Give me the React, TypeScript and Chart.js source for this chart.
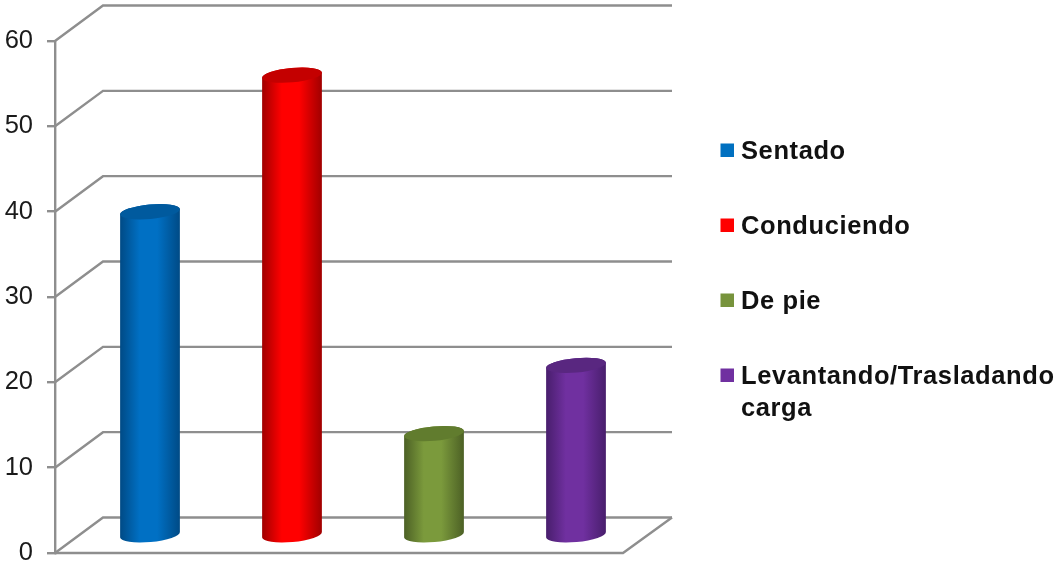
import React, { useEffect, useRef } from "react";
import { Chart, registerables } from "chart.js";

Chart.register(...registerables);

const categories = ["Sentado", "Conduciendo", "De pie", "Levantando/Trasladando carga"];
const legendLines = [["Sentado"], ["Conduciendo"], ["De pie"], ["Levantando/Trasladando", "carga"]];
const values = [38, 54, 12, 20];
const baseColors = ["#0070c4", "#ff0000", "#7b9a3c", "#7030a0"];
const edgeColors = ["#004a85", "#a00000", "#4c6025", "#481e6c"];
const capColors = ["#005a9e", "#c40000", "#617c2e", "#592780"];
const legendColors = ["#0070c0", "#ff0000", "#77933c", "#7030a0"];
const yTicks = [0, 10, 20, 30, 40, 50, 60];

const GRID = "#8e8e8e";
const DEPTH_X = 48;
const DEPTH_Y = 35.5;
const BAR_DX = 24;
const BAR_DY = 17;
const CAP_RY = 7.2;
const CAP_ROT = -0.09;
const FONT = '"Liberation Sans", Arial, sans-serif';

const drawCylinder = (ctx: CanvasRenderingContext2D, el: any, i: number) => {
  const { x, y, base, width } = el;
  const rx = width / 2;
  ctx.save();
  ctx.translate(BAR_DX, -BAR_DY);
  const g = ctx.createLinearGradient(x - rx, 0, x + rx, 0);
  g.addColorStop(0, edgeColors[i]);
  g.addColorStop(0.33, baseColors[i]);
  g.addColorStop(0.62, baseColors[i]);
  g.addColorStop(1, edgeColors[i]);
  // Body: lower half of the base ellipse, then up to the upper half of the cap.
  ctx.beginPath();
  ctx.ellipse(x, base, rx, CAP_RY, CAP_ROT, 0, Math.PI);
  ctx.ellipse(x, y, rx, CAP_RY, CAP_ROT, Math.PI, Math.PI * 2);
  ctx.closePath();
  ctx.fillStyle = g;
  ctx.fill();
  // Cap
  ctx.beginPath();
  ctx.ellipse(x, y, rx, CAP_RY, CAP_ROT, 0, Math.PI * 2);
  ctx.fillStyle = capColors[i];
  ctx.fill();
  ctx.restore();
};

const depthPlugin = {
  id: "depth",
  beforeDatasetsDraw(chart: any) {
    const { ctx, chartArea, scales } = chart;
    const y = scales.y;
    const { left, right } = chartArea;
    ctx.save();
    ctx.strokeStyle = GRID;
    ctx.lineWidth = 2.4;
    ctx.lineCap = "butt";
    y.ticks.forEach((_: any, i: number) => {
      const py = y.getPixelForTick(i);
      ctx.beginPath();
      ctx.moveTo(left, py);
      ctx.lineTo(left + DEPTH_X, py - DEPTH_Y);
      ctx.lineTo(right + DEPTH_X + 1, py - DEPTH_Y);
      ctx.stroke();
    });
    const p0 = y.getPixelForValue(0);
    ctx.beginPath();
    ctx.moveTo(left, p0);
    ctx.lineTo(right, p0);
    ctx.lineTo(right + DEPTH_X + 1, p0 - DEPTH_Y);
    ctx.stroke();
    ctx.restore();
    chart.getDatasetMeta(0).data.forEach((el: any, i: number) => {
      el.draw = (c: CanvasRenderingContext2D) => drawCylinder(c, el, i);
    });
  },
};

const legendPlugin = {
  id: "sideLegend",
  afterDraw(chart: any) {
    const { ctx } = chart;
    const rows = [150, 225, 300, 375];
    ctx.save();
    ctx.font = `bold 25.5px ${FONT}`;
    (ctx as any).letterSpacing = "0.6px";
    ctx.textBaseline = "middle";
    ctx.textAlign = "left";
    legendLines.forEach((lines, i) => {
      ctx.fillStyle = legendColors[i];
      ctx.fillRect(720.5, rows[i] - 6.5, 13.5, 13.5);
      ctx.fillStyle = "#111111";
      lines.forEach((t, j) => ctx.fillText(t, 741, rows[i] + 2 + j * 32));
    });
    ctx.restore();
  },
};

export default function App() {
  const ref = useRef<HTMLCanvasElement | null>(null);
  useEffect(() => {
    if (!ref.current) return;
    const chart = new Chart(ref.current, {
      type: "bar",
      data: {
        labels: categories,
        datasets: [
          {
            data: values,
            backgroundColor: baseColors,
            borderWidth: 0,
            barPercentage: 60 / 142,
            categoryPercentage: 1,
            clip: false,
          } as any,
        ],
      },
      options: {
        responsive: false,
        animation: false,
        layout: {
          autoPadding: false,
          padding: { left: 0, top: 41, right: 434, bottom: 12 },
        },
        plugins: { legend: { display: false }, tooltip: { enabled: false } },
        scales: {
          x: {
            display: false,
            afterFit: (s: any) => {
              s.height = 0;
              s.paddingBottom = 0;
              s.paddingTop = 0;
            },
          },
          y: {
            min: 0,
            max: 60,
            afterFit: (s: any) => {
              s.width = 55;
              s.paddingTop = 0;
              s.paddingBottom = 0;
            },
            afterBuildTicks: (s: any) => {
              s.ticks = yTicks.map((value) => ({ value }));
            },
            border: { display: true, color: GRID, width: 2.4 },
            grid: {
              drawOnChartArea: false,
              drawTicks: true,
              tickLength: 8,
              color: GRID,
              lineWidth: 2.4,
            },
            ticks: {
              padding: 14,
              color: "#1a1a1a",
              font: { family: FONT, size: 25.5 },
            },
          },
        },
      } as any,
      plugins: [depthPlugin, legendPlugin],
    });
    return () => chart.destroy();
  }, []);
  return (
    <div style={{ position: "fixed", left: 0, top: 0, width: 1057, height: 565, background: "#fff" }}>
      <canvas ref={ref} width={1057} height={565} style={{ display: "block", filter: "blur(0.45px)" }} />
    </div>
  );
}
